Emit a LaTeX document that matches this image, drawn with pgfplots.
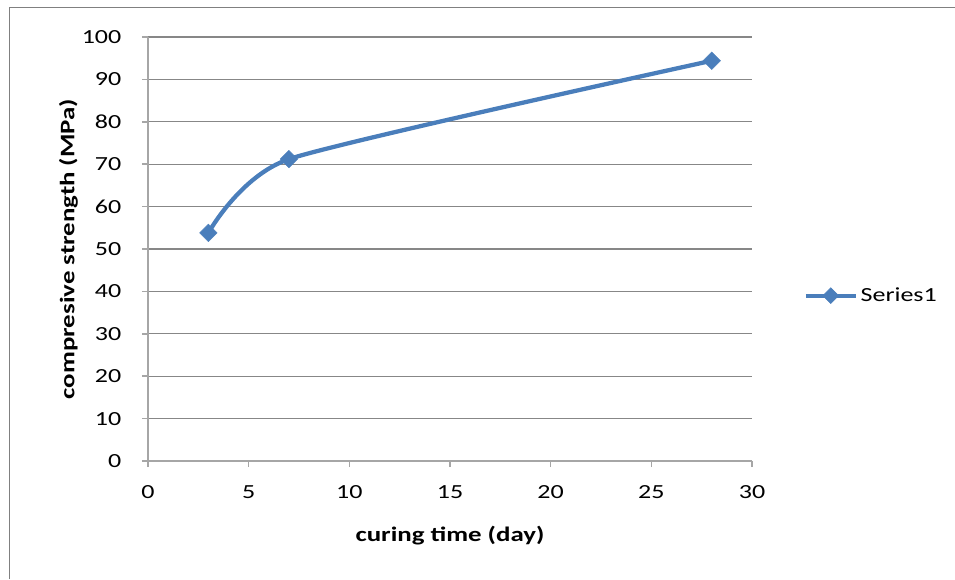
\documentclass[border=0pt]{standalone}
\usepackage{fontspec}
\setmainfont{Carlito}[FakeStretch=1.3]
\usepackage{pgfplots}
\pgfplotsset{compat=1.18}
\definecolor{serblue}{HTML}{4A7EBB}
\definecolor{gridgray}{HTML}{878787}
\definecolor{axisgray}{HTML}{A6A6A6}
\begin{document}
\begin{tikzpicture}
\path[use as bounding box] (0pt,0pt) rectangle (716.25pt,434.25pt);
\draw[gray, line width=0.75pt] (6.75pt,0pt) -- (6.75pt,428.25pt) -- (716.25pt,428.25pt);
\begin{axis}[
  at={(111pt,88.5pt)}, anchor=south west,
  scale only axis, width=453pt, height=318pt,
  xmin=0, xmax=30, ymin=0, ymax=100,
  xtick={0,5,...,30}, ytick={0,10,...,100},
  axis lines=left,
  axis line style={axisgray, line width=1.2pt, -},
  ymajorgrids, grid style={gridgray, line width=0.9pt},
  tick style={axisgray, line width=1.2pt},
  tick align=outside, major tick length=4.5pt,
  tick label style={font=\fontsize{15}{17}\selectfont},
  yticklabel style={xshift=-12pt},
  xticklabel style={yshift=-10.5pt},
  /pgf/number format/assume math mode=true,
  xlabel={\bfseries curing time (day)},
  ylabel={\bfseries compresive strength (MPa)},
  label style={font=\fontsize{15.5}{17}\selectfont\bfseries},
  xlabel style={yshift=-14pt},
  ylabel style={yshift=-4pt},
  legend style={draw=none, at={(1.085,0.39)}, anchor=west, font=\fontsize{15}{17}\selectfont,
    inner sep=0pt},
  legend cell align=left,
  legend image code/.code={\draw[#1, mark repeat=2, mark phase=2, mark size=4.2pt]
    plot coordinates {(0cm,0cm) (0.66cm,0cm) (1.32cm,0cm)};},
  clip=false,
]
\addplot[serblue, line width=3.2pt, smooth, tension=0.35,
  mark=square*, mark size=4.6pt, mark options={rotate=45, fill=serblue, line width=0.4pt}]
  coordinates {(3,53.8) (7,71.2) (28,94.4)};
\addlegendentry{Series1}
\end{axis}
\end{tikzpicture}
\end{document}
